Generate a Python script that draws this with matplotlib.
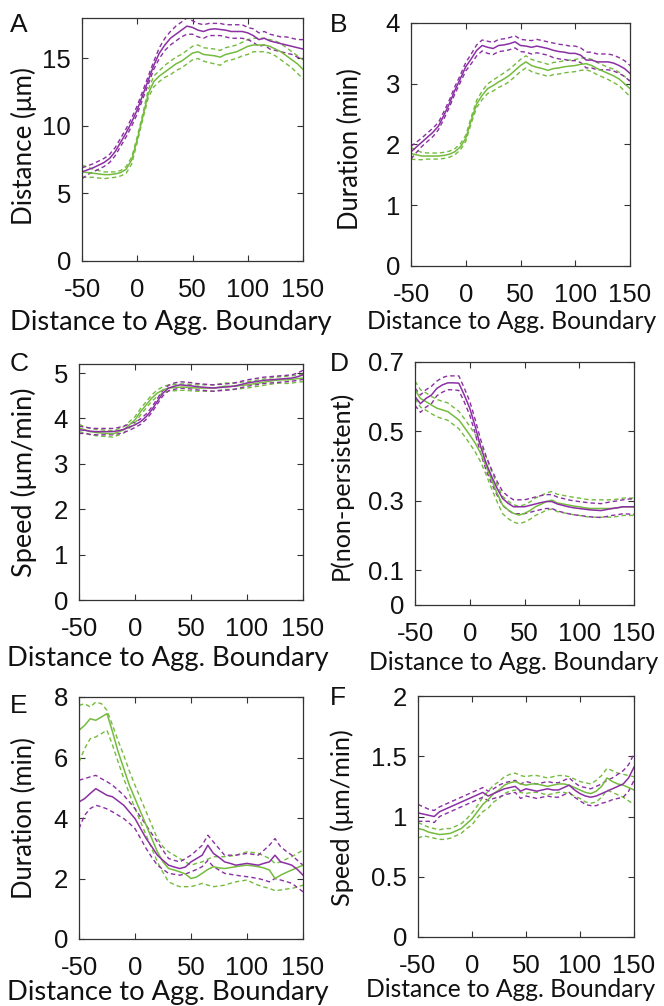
import numpy as np
import matplotlib
matplotlib.use("Agg")
import matplotlib.pyplot as plt

plt.rcParams['axes.unicode_minus'] = False

# ---------------- data ----------------
x = list(range(-50, 151, 5))

# Panel A: Distance (um)
pA_mean = [6.6, 6.75, 6.9, 7.1, 7.3, 7.6, 8.1, 8.8, 9.5, 10.3, 11.2, 12.3, 13.4, 14.5, 15.4, 16.0, 16.5, 16.8, 17.1, 17.4, 17.3,
           17.1, 17.0, 17.15, 17.2, 17.15, 17.1, 17.0, 17.0, 17.0, 16.9, 16.7, 16.4, 16.5, 16.3, 16.2, 16.1, 16.0, 15.9, 15.8, 15.7]
pA_hi = [6.9, 7.05, 7.2, 7.4, 7.6, 7.9, 8.4, 9.1, 9.8, 10.6, 11.5, 12.6, 13.7, 14.8, 15.8, 16.5, 17.0, 17.4, 17.7, 18.0, 17.8,
         17.6, 17.5, 17.6, 17.6, 17.6, 17.5, 17.5, 17.5, 17.5, 17.3, 17.2, 16.9, 17.0, 16.8, 16.7, 16.6, 16.6, 16.5, 16.4, 16.4]
pA_lo = [6.1, 6.4, 6.6, 6.8, 7.0, 7.3, 7.8, 8.5, 9.2, 10.0, 10.9, 12.0, 13.1, 14.2, 15.0, 15.6, 16.0, 16.3, 16.6, 16.8, 16.8,
         16.6, 16.5, 16.7, 16.7, 16.7, 16.6, 16.5, 16.5, 16.5, 16.4, 16.2, 15.9, 16.0, 15.7, 15.6, 15.5, 15.4, 15.3, 15.1, 15.0]
gA_mean = [6.6, 6.55, 6.5, 6.45, 6.4, 6.4, 6.45, 6.55, 6.8, 7.5, 9.0, 10.7, 12.4, 13.3, 13.7, 14.0, 14.3, 14.6, 14.8, 15.1, 15.4,
           15.5, 15.3, 15.25, 15.2, 15.1, 15.3, 15.4, 15.5, 15.7, 15.9, 16.0, 16.0, 16.0, 15.9, 15.7, 15.5, 15.2, 14.9, 14.6, 14.2]
gA_hi = [7.1, 6.95, 6.8, 6.7, 6.6, 6.6, 6.6, 6.7, 7.0, 7.7, 9.2, 10.9, 12.7, 13.7, 14.1, 14.5, 14.8, 15.1, 15.3, 15.6, 15.9,
         16.0, 15.8, 15.75, 15.7, 15.6, 15.8, 15.9, 16.0, 16.2, 16.4, 16.5, 16.5, 16.5, 16.4, 16.3, 16.1, 15.8, 15.5, 15.2, 14.9]
gA_lo = [6.2, 6.2, 6.2, 6.15, 6.1, 6.15, 6.2, 6.3, 6.5, 7.2, 8.8, 10.5, 12.1, 12.9, 13.3, 13.6, 13.8, 14.1, 14.3, 14.6, 14.9,
         15.0, 14.8, 14.7, 14.6, 14.5, 14.8, 14.9, 15.0, 15.2, 15.3, 15.5, 15.5, 15.5, 15.4, 15.2, 14.9, 14.6, 14.3, 13.9, 13.5]

# Panel B: Duration (min)
pB_mean = [1.88, 1.96, 2.04, 2.12, 2.2, 2.3, 2.48, 2.67, 2.89, 3.08, 3.28, 3.41, 3.55, 3.63, 3.6, 3.58, 3.63, 3.64, 3.66, 3.69, 3.63,
           3.62, 3.6, 3.62, 3.6, 3.58, 3.55, 3.53, 3.52, 3.5, 3.5, 3.47, 3.39, 3.39, 3.36, 3.36, 3.36, 3.34, 3.3, 3.25, 3.17]
pB_hi = [1.97, 2.04, 2.11, 2.19, 2.27, 2.36, 2.54, 2.73, 2.95, 3.14, 3.35, 3.49, 3.64, 3.72, 3.7, 3.68, 3.73, 3.74, 3.76, 3.79, 3.73,
         3.72, 3.71, 3.73, 3.71, 3.69, 3.67, 3.65, 3.64, 3.62, 3.62, 3.59, 3.52, 3.52, 3.49, 3.49, 3.49, 3.47, 3.43, 3.38, 3.3]
pB_lo = [1.76, 1.87, 1.97, 2.05, 2.13, 2.24, 2.42, 2.61, 2.83, 3.02, 3.21, 3.33, 3.46, 3.54, 3.5, 3.48, 3.53, 3.54, 3.56, 3.59, 3.53,
         3.52, 3.49, 3.51, 3.49, 3.47, 3.43, 3.41, 3.4, 3.38, 3.38, 3.35, 3.26, 3.26, 3.23, 3.23, 3.23, 3.21, 3.17, 3.12, 3.04]
gB_mean = [1.85, 1.83, 1.81, 1.81, 1.81, 1.81, 1.82, 1.84, 1.88, 1.96, 2.1, 2.4, 2.67, 2.81, 2.92, 2.97, 3.03, 3.08, 3.14, 3.22, 3.3,
           3.36, 3.3, 3.27, 3.25, 3.22, 3.25, 3.26, 3.28, 3.29, 3.3, 3.32, 3.33, 3.3, 3.25, 3.21, 3.17, 3.13, 3.08, 3.0, 2.92]
gB_hi = [1.95, 1.9, 1.87, 1.86, 1.86, 1.86, 1.87, 1.89, 1.93, 2.01, 2.15, 2.45, 2.73, 2.88, 3.0, 3.06, 3.12, 3.18, 3.24, 3.32, 3.4,
         3.46, 3.4, 3.37, 3.35, 3.32, 3.35, 3.36, 3.38, 3.39, 3.4, 3.42, 3.43, 3.4, 3.35, 3.31, 3.27, 3.24, 3.19, 3.12, 3.05]
gB_lo = [1.76, 1.75, 1.75, 1.76, 1.76, 1.76, 1.77, 1.79, 1.83, 1.91, 2.05, 2.35, 2.61, 2.74, 2.84, 2.88, 2.94, 2.98, 3.04, 3.12, 3.2,
         3.26, 3.2, 3.17, 3.15, 3.12, 3.15, 3.16, 3.18, 3.19, 3.2, 3.22, 3.23, 3.2, 3.15, 3.11, 3.07, 3.02, 2.97, 2.88, 2.79]

# Panel C: Speed (um/min)
pC_mean = [3.75, 3.74, 3.72, 3.71, 3.71, 3.71, 3.71, 3.73, 3.76, 3.81, 3.86, 3.93, 4.04, 4.19, 4.38, 4.56, 4.67, 4.71, 4.74, 4.73, 4.72,
           4.7, 4.69, 4.68, 4.67, 4.68, 4.69, 4.7, 4.72, 4.75, 4.78, 4.8, 4.82, 4.84, 4.85, 4.86, 4.87, 4.88, 4.89, 4.92, 4.96]
pC_hi = [3.83, 3.81, 3.79, 3.78, 3.78, 3.78, 3.78, 3.8, 3.83, 3.88, 3.92, 3.99, 4.1, 4.25, 4.44, 4.62, 4.73, 4.78, 4.81, 4.8, 4.79,
         4.77, 4.76, 4.75, 4.74, 4.75, 4.76, 4.77, 4.79, 4.82, 4.85, 4.87, 4.89, 4.91, 4.92, 4.93, 4.94, 4.95, 4.96, 5.0, 5.06]
pC_lo = [3.67, 3.67, 3.65, 3.64, 3.64, 3.64, 3.64, 3.66, 3.69, 3.74, 3.8, 3.87, 3.98, 4.13, 4.32, 4.5, 4.61, 4.64, 4.67, 4.66, 4.65,
         4.63, 4.62, 4.61, 4.6, 4.61, 4.62, 4.63, 4.65, 4.68, 4.71, 4.73, 4.75, 4.77, 4.78, 4.79, 4.8, 4.81, 4.82, 4.84, 4.86]
gC_mean = [3.79, 3.75, 3.71, 3.69, 3.68, 3.67, 3.66, 3.7, 3.75, 3.86, 3.97, 4.15, 4.3, 4.45, 4.56, 4.63, 4.67, 4.68, 4.69, 4.69, 4.68,
           4.67, 4.67, 4.67, 4.67, 4.69, 4.71, 4.71, 4.71, 4.73, 4.74, 4.76, 4.78, 4.8, 4.82, 4.84, 4.85, 4.85, 4.86, 4.88, 4.89]
gC_hi = [3.87, 3.82, 3.78, 3.76, 3.75, 3.74, 3.73, 3.77, 3.82, 3.93, 4.04, 4.22, 4.37, 4.52, 4.63, 4.7, 4.74, 4.75, 4.76, 4.76, 4.75,
         4.74, 4.74, 4.74, 4.74, 4.76, 4.78, 4.78, 4.78, 4.8, 4.81, 4.83, 4.85, 4.87, 4.89, 4.91, 4.92, 4.93, 4.94, 4.96, 4.97]
gC_lo = [3.71, 3.68, 3.64, 3.62, 3.61, 3.6, 3.59, 3.63, 3.68, 3.79, 3.9, 4.08, 4.23, 4.38, 4.49, 4.56, 4.6, 4.61, 4.62, 4.62, 4.61,
         4.6, 4.6, 4.6, 4.6, 4.62, 4.64, 4.64, 4.64, 4.66, 4.67, 4.69, 4.71, 4.73, 4.75, 4.77, 4.78, 4.77, 4.78, 4.8, 4.81]

# Panel D: P(non-persistent)
pD_mean = [0.60, 0.58, 0.595, 0.605, 0.624, 0.634, 0.64, 0.64, 0.639, 0.605, 0.567, 0.514, 0.456, 0.408, 0.37, 0.336, 0.307, 0.293,
           0.283, 0.283, 0.283, 0.287, 0.291, 0.295, 0.298, 0.298, 0.291, 0.287, 0.283, 0.28, 0.278, 0.276, 0.274, 0.273, 0.272,
           0.275, 0.278, 0.28, 0.283, 0.283, 0.283]
pD_hi = [0.625, 0.605, 0.62, 0.63, 0.645, 0.655, 0.66, 0.66, 0.66, 0.625, 0.587, 0.534, 0.476, 0.428, 0.39, 0.356, 0.327, 0.313,
         0.303, 0.303, 0.303, 0.307, 0.311, 0.315, 0.318, 0.318, 0.311, 0.307, 0.303, 0.3, 0.298, 0.296, 0.294, 0.293, 0.292,
         0.295, 0.298, 0.3, 0.303, 0.305, 0.306]
pD_lo = [0.575, 0.555, 0.57, 0.58, 0.603, 0.613, 0.62, 0.62, 0.618, 0.585, 0.547, 0.494, 0.436, 0.388, 0.35, 0.316, 0.287, 0.273,
         0.263, 0.263, 0.263, 0.267, 0.271, 0.275, 0.278, 0.278, 0.271, 0.267, 0.263, 0.26, 0.258, 0.256, 0.254, 0.253, 0.252,
         0.255, 0.258, 0.26, 0.263, 0.262, 0.261]
gD_mean = [0.62, 0.595, 0.586, 0.576, 0.567, 0.562, 0.557, 0.545, 0.533, 0.512, 0.49, 0.466, 0.437, 0.4, 0.36, 0.322, 0.288, 0.274,
           0.264, 0.259, 0.264, 0.272, 0.283, 0.29, 0.298, 0.302, 0.294, 0.291, 0.288, 0.285, 0.283, 0.28, 0.278, 0.278, 0.278,
           0.278, 0.278, 0.28, 0.283, 0.283, 0.283]
gD_hi = [0.645, 0.62, 0.611, 0.601, 0.592, 0.587, 0.582, 0.57, 0.558, 0.537, 0.515, 0.491, 0.462, 0.425, 0.385, 0.347, 0.313, 0.299,
         0.289, 0.284, 0.289, 0.297, 0.308, 0.315, 0.323, 0.327, 0.319, 0.316, 0.313, 0.31, 0.308, 0.305, 0.303, 0.303, 0.303,
         0.303, 0.303, 0.305, 0.308, 0.308, 0.308]
gD_lo = [0.595, 0.57, 0.561, 0.551, 0.542, 0.537, 0.532, 0.52, 0.508, 0.487, 0.465, 0.441, 0.412, 0.375, 0.335, 0.297, 0.263, 0.249,
         0.239, 0.234, 0.239, 0.247, 0.258, 0.265, 0.273, 0.277, 0.269, 0.266, 0.263, 0.26, 0.258, 0.255, 0.253, 0.253, 0.253,
         0.253, 0.253, 0.255, 0.258, 0.258, 0.258]

# Panel E: Duration (min)
pE_mean = [4.53, 4.64, 4.81, 4.97, 4.86, 4.75, 4.7, 4.56, 4.42, 4.2, 3.98, 3.65, 3.32, 3.05, 2.77, 2.6, 2.44, 2.38, 2.33, 2.38, 2.55,
           2.66, 2.77, 3.1, 2.83, 2.7, 2.55, 2.5, 2.44, 2.47, 2.5, 2.47, 2.44, 2.5, 2.55, 2.77, 2.55, 2.5, 2.44, 2.3, 2.11]
pE_hi = [5.25, 5.3, 5.36, 5.41, 5.3, 5.2, 5.08, 4.92, 4.75, 4.53, 4.31, 4.03, 3.76, 3.48, 3.21, 2.93, 2.66, 2.6, 2.55, 2.66, 2.77,
         2.93, 3.1, 3.43, 3.21, 2.99, 2.77, 2.77, 2.77, 2.8, 2.83, 2.8, 2.77, 2.93, 3.1, 3.32, 3.05, 2.9, 2.77, 2.6, 2.44]
pE_lo = [3.65, 4.09, 4.31, 4.42, 4.37, 4.3, 4.2, 4.09, 3.98, 3.82, 3.65, 3.32, 2.99, 2.7, 2.44, 2.3, 2.17, 2.14, 2.11, 2.15, 2.22,
         2.3, 2.39, 2.6, 2.39, 2.28, 2.17, 2.14, 2.11, 2.08, 2.06, 2.03, 2.0, 1.95, 1.89, 2.0, 1.95, 1.9, 1.84, 1.7, 1.56]
gE_mean = [6.9, 7.06, 7.28, 7.23, 7.34, 7.45, 6.84, 6.18, 5.63, 5.08, 4.64, 4.2, 3.76, 3.32, 2.88, 2.55, 2.33, 2.28, 2.22, 2.15, 2.0,
           2.05, 2.17, 2.3, 2.39, 2.35, 2.33, 2.36, 2.39, 2.42, 2.44, 2.42, 2.39, 2.35, 2.28, 2.0, 2.11, 2.2, 2.28, 2.36, 2.44]
gE_hi = [7.72, 7.78, 7.67, 7.83, 7.78, 7.56, 7.06, 6.55, 6.07, 5.55, 5.08, 4.64, 4.2, 3.76, 3.32, 3.05, 2.88, 2.77, 2.66, 2.55, 2.44,
         2.5, 2.55, 2.64, 2.72, 2.72, 2.72, 2.74, 2.77, 2.83, 2.88, 2.86, 2.83, 2.75, 2.66, 2.5, 2.55, 2.64, 2.72, 2.83, 2.94]
gE_lo = [5.85, 6.29, 6.62, 6.68, 6.79, 6.9, 6.4, 5.85, 5.3, 4.8, 4.31, 3.87, 3.43, 2.99, 2.55, 2.2, 1.89, 1.8, 1.73, 1.73, 1.73,
         1.78, 1.84, 1.78, 1.73, 1.75, 1.78, 1.84, 1.89, 1.92, 1.95, 1.86, 1.78, 1.72, 1.67, 1.6, 1.62, 1.65, 1.67, 1.72, 1.78]

# Panel F: Speed (um/min)
pF_mean = [1.03, 1.02, 1.01, 1.0, 1.04, 1.06, 1.08, 1.1, 1.12, 1.14, 1.16, 1.18, 1.2, 1.17, 1.19, 1.21, 1.23, 1.24, 1.25, 1.21, 1.23,
           1.22, 1.21, 1.22, 1.23, 1.22, 1.22, 1.24, 1.26, 1.22, 1.19, 1.17, 1.16, 1.17, 1.19, 1.21, 1.23, 1.25, 1.27, 1.32, 1.41]
pF_hi = [1.1, 1.08, 1.06, 1.05, 1.08, 1.1, 1.12, 1.14, 1.16, 1.18, 1.2, 1.22, 1.24, 1.21, 1.23, 1.26, 1.28, 1.29, 1.3, 1.27, 1.29,
         1.28, 1.27, 1.28, 1.29, 1.28, 1.28, 1.3, 1.32, 1.28, 1.25, 1.24, 1.23, 1.25, 1.27, 1.3, 1.32, 1.35, 1.38, 1.43, 1.52]
pF_lo = [0.96, 0.96, 0.96, 0.95, 1.0, 1.02, 1.04, 1.06, 1.08, 1.1, 1.12, 1.14, 1.16, 1.13, 1.15, 1.16, 1.18, 1.19, 1.2, 1.15, 1.17,
         1.16, 1.15, 1.16, 1.17, 1.16, 1.16, 1.18, 1.2, 1.16, 1.13, 1.1, 1.09, 1.09, 1.11, 1.12, 1.14, 1.15, 1.16, 1.21, 1.3]
gF_mean = [0.9, 0.89, 0.87, 0.86, 0.85, 0.855, 0.86, 0.88, 0.9, 0.94, 0.98, 1.04, 1.1, 1.14, 1.19, 1.22, 1.26, 1.28, 1.29, 1.27, 1.26,
           1.27, 1.27, 1.26, 1.25, 1.26, 1.27, 1.27, 1.26, 1.24, 1.22, 1.2, 1.19, 1.21, 1.25, 1.32, 1.29, 1.27, 1.26, 1.24, 1.22]
gF_hi = [0.95, 0.93, 0.91, 0.9, 0.89, 0.9, 0.9, 0.92, 0.94, 0.98, 1.03, 1.09, 1.16, 1.21, 1.26, 1.29, 1.33, 1.35, 1.36, 1.34, 1.33,
         1.34, 1.34, 1.33, 1.32, 1.33, 1.34, 1.34, 1.33, 1.31, 1.29, 1.28, 1.27, 1.3, 1.34, 1.4, 1.38, 1.36, 1.35, 1.34, 1.33]
gF_lo = [0.82, 0.84, 0.83, 0.82, 0.81, 0.81, 0.82, 0.84, 0.86, 0.9, 0.93, 0.99, 1.04, 1.07, 1.12, 1.15, 1.19, 1.21, 1.22, 1.2, 1.19,
         1.2, 1.2, 1.19, 1.18, 1.19, 1.2, 1.2, 1.19, 1.17, 1.15, 1.12, 1.11, 1.12, 1.16, 1.22, 1.2, 1.18, 1.16, 1.13, 1.1]

letters = ["A", "B", "C", "D", "E", "F"]
ylabels = ["Distance (μm)", "Duration (min)", "Speed (μm/min)", "P(non-persistent)", "Duration (min)", "Speed (μm/min)"]
xlabel = "Distance to Agg. Boundary"
xticks = [-50, 0, 50, 100, 150]
xticklabels = ["-50", "0", "50", "100", "150"]
yticks = [[0, 5, 10, 15], [0, 1, 2, 3, 4], [0, 1, 2, 3, 4, 5], [0, 0.1, 0.3, 0.5, 0.7], [0, 2, 4, 6, 8], [0, 0.5, 1, 1.5, 2]]
yticklabels = [["0", "5", "10", "15"], ["0", "1", "2", "3", "4"], ["0", "1", "2", "3", "4", "5"],
               ["0", "0.1", "0.3", "0.5", "0.7"], ["0", "2", "4", "6", "8"], ["0", "0.5", "1", "1.5", "2"]]
ylims = [(0, 18), (0, 4), (0, 5.2), (0, 0.7), (0, 8), (0, 2)]

purple_series = [(pA_mean, pA_hi, pA_lo), (pB_mean, pB_hi, pB_lo), (pC_mean, pC_hi, pC_lo),
                 (pD_mean, pD_hi, pD_lo), (pE_mean, pE_hi, pE_lo), (pF_mean, pF_hi, pF_lo)]
green_series = [(gA_mean, gA_hi, gA_lo), (gB_mean, gB_hi, gB_lo), (gC_mean, gC_hi, gC_lo),
                (gD_mean, gD_hi, gD_lo), (gE_mean, gE_hi, gE_lo), (gF_mean, gF_hi, gF_lo)]

# ---------------- layout / style ----------------
PURPLE = "#8b2fa3"
GREEN = "#74bb3e"
BOX = "#333333"
TICK_FONT = "Liberation Sans"
LABEL_FONT = "Lato"

W, H = 664, 1006
rects_px = [(82, 18, 303, 261), (411, 23, 630, 266), (79, 364, 303, 600),
            (415, 362, 634, 605), (79, 697, 303, 939), (418, 696, 634, 937)]
letter_px = [(10, 32), (330, 32), (10, 371), (330, 371), (10, 713), (330, 705)]
# ylabel: right edge x, vertical centre y, target length (px)
ylabel_px = [(37, 146, 158), (363, 149, 162), (37, 482, 190), (353, 485, 190), (37, 818, 162), (354, 818, 177)]
# xlabel: centre x, top y, target width (px)
xlabel_px = [(171, 310, 323), (512, 310, 290), (168, 646, 323), (514, 651, 290), (168, 980, 323), (511, 978, 290)]

fig = plt.figure(figsize=(W / 100, H / 100), dpi=100)
axes = []
for i in range(6):
    l, t, r, b = rects_px[i]
    ax = fig.add_axes([l / W, 1 - b / H, (r - l) / W, (b - t) / H])
    axes.append(ax)
    pm, ph, pl = purple_series[i]
    gm, gh, gl = green_series[i]
    dash = (0, (3.2, 2.2))
    ax.plot(x, gh, color=GREEN, lw=1.0, linestyle=dash)
    ax.plot(x, gl, color=GREEN, lw=1.0, linestyle=dash)
    ax.plot(x, ph, color=PURPLE, lw=1.0, linestyle=dash)
    ax.plot(x, pl, color=PURPLE, lw=1.0, linestyle=dash)
    ax.plot(x, gm, color=GREEN, lw=1.1)
    ax.plot(x, pm, color=PURPLE, lw=1.1)

    ax.set_xlim(-50, 150)
    ax.set_ylim(*ylims[i])
    ax.set_xticks(xticks)
    ax.set_xticklabels(xticklabels, fontfamily=TICK_FONT, fontsize=18.5)
    ax.set_yticks(yticks[i])
    ax.set_yticklabels(yticklabels[i], fontfamily=TICK_FONT, fontsize=18.5)
    ax.tick_params(direction="in", length=4, width=0.8, color=BOX, top=True, right=True,
                   labelcolor="#111111")
    ax.tick_params(axis="x", pad=12)
    ax.tick_params(axis="y", pad=8)
    for s in ax.spines.values():
        s.set_color(BOX)
        s.set_linewidth(0.9)

    ax.set_ylabel(ylabels[i], fontfamily=LABEL_FONT, fontsize=19, color="#111111")
    rx, cy, _ = ylabel_px[i]
    ax.yaxis.set_label_coords((rx - l) / (r - l), (b - cy) / (b - t))
    ax.set_xlabel(xlabel, fontfamily=LABEL_FONT, fontsize=19, color="#111111")
    cx, ty, _ = xlabel_px[i]
    ax.xaxis.set_label_coords((cx - l) / (r - l), (b - ty) / (b - t))

    lx, ly = letter_px[i]
    fig.text(lx / W, 1 - ly / H, letters[i], fontfamily=TICK_FONT, fontsize=19,
             ha="left", va="baseline", color="#111111")

# scale label font sizes so that their rendered lengths match the reference
fig.canvas.draw()
renderer = fig.canvas.get_renderer()
for i, ax in enumerate(axes):
    yl = ax.yaxis.label
    h = yl.get_window_extent(renderer).height
    yl.set_fontsize(yl.get_fontsize() * ylabel_px[i][2] / h)
    xl = ax.xaxis.label
    w = xl.get_window_extent(renderer).width
    xl.set_fontsize(xl.get_fontsize() * xlabel_px[i][2] / w)

fig.savefig("out.png", dpi=100)
